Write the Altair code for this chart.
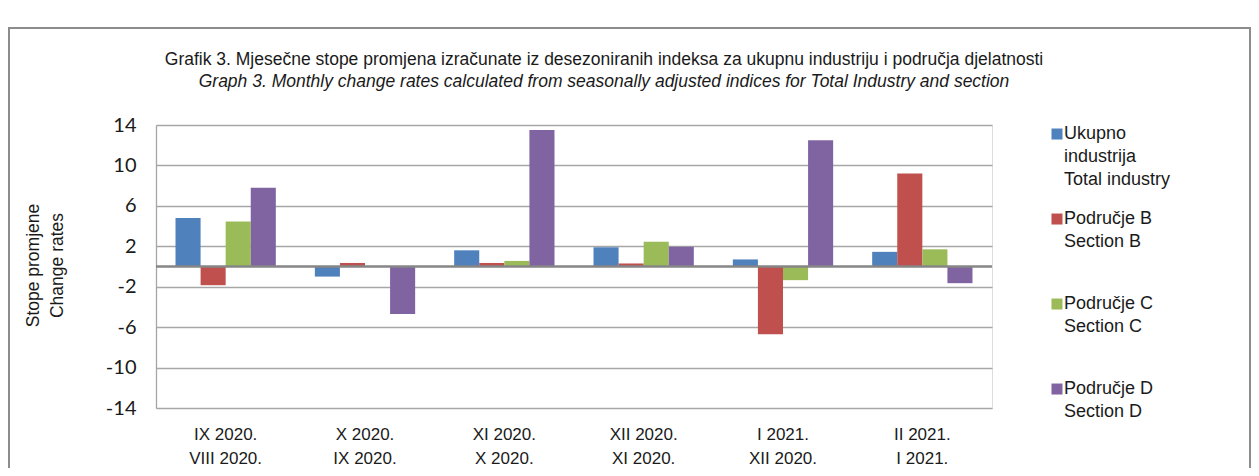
import altair as alt
import pandas as pd

periods = ["IX 2020.\nVIII 2020.", "X 2020.\nIX 2020.", "XI 2020.\nX 2020.",
           "XII 2020.\nXI 2020.", "I 2021.\nXII 2020.", "II 2021.\nI 2021."]
series = ["Ukupno\nindustrija\nTotal industry", "Područje B\nSection B",
          "Područje C\nSection C", "Područje D\nSection D"]
total_industry = [4.8, -1.0, 1.6, 1.9, 0.7, 1.45]
section_b = [-1.85, 0.35, 0.35, 0.3, -6.7, 9.2]
section_c = [4.45, 0.0, 0.55, 2.45, -1.35, 1.7]
section_d = [7.8, -4.7, 13.5, 1.95, 12.5, -1.65]
colors = ["#4F81BD", "#C0504D", "#9BBB59", "#8064A2"]
y_ticks = [-14, -10, -6, -2, 2, 6, 10, 14]

title_line1 = ("Grafik 3. Mjesečne stope promjena izračunate iz desezoniranih indeksa "
               "za ukupnu industriju i područja djelatnosti")
title_line2 = ("Graph 3. Monthly change rates calculated from seasonally adjusted indices "
               "for Total Industry and section")

rows = []
for s, vals in zip(series, [total_industry, section_b, section_c, section_d]):
    for p, v in zip(periods, vals):
        rows.append({"period": p, "series": s, "value": v})
df = pd.DataFrame(rows)

bars = alt.Chart(df).mark_bar().encode(
    x=alt.X("period:N", sort=periods,
            scale=alt.Scale(paddingInner=0.28, paddingOuter=0.14),
            axis=alt.Axis(title=None, labelAngle=0, ticks=False, domain=False, grid=False,
                          labelPadding=18, labelFont="Liberation Sans", labelFontSize=17,
                          labelLineHeight=24, labelColor="#1a1a1a", labelBaseline="top",
                          labelExpr="split(datum.label, '\\n')")),
    xOffset=alt.XOffset("series:N", sort=series, scale=alt.Scale(paddingInner=0, paddingOuter=0)),
    y=alt.Y("value:Q", scale=alt.Scale(domain=[-14, 14], nice=False, zero=False),
            axis=alt.Axis(values=y_ticks, title=["Stope promjene", "Change rates"],
                          titleFont="Liberation Sans", titleFontSize=17.5, titleFontWeight="normal",
                          titleColor="#1a1a1a", titleX=-123, titleY=140, titleAlign="center",
                          titleBaseline="middle", titleAngle=270, titleLineHeight=24,
                          labelFont="Lato", labelFontSize=20, labelColor="#1a1a1a",
                          labelExpr="'' + datum.value",
                          labelPadding=20, ticks=False, domainColor="#a6a6a6", domainWidth=1.3,
                          gridColor="#a6a6a6", gridWidth=1.3)),
    color=alt.Color("series:N", sort=series,
                    scale=alt.Scale(domain=series, range=colors),
                    legend=alt.Legend(title=None, orient="none", legendX=890, legendY=-9,
                                      symbolType="M-0.64,0.64H1.36V2.64H-0.64Z", symbolSize=121,
                                      symbolStrokeWidth=0,
                                      labelFont="Liberation Sans", labelFontSize=18,
                                      labelColor="#1a1a1a", labelBaseline="top",
                                      labelExpr="split(datum.label, '\\n')", labelLimit=0,
                                      labelOffset=0, gridAlign="all", rowPadding=12, padding=0)),
)

zero = alt.Chart(pd.DataFrame({"z": [0]})).mark_rule(color="#868686", strokeWidth=2.3).encode(
    y="z:Q")

border = alt.Chart(pd.DataFrame({"a": [0]})).mark_rect(
    filled=False, stroke="#8c8c8c", strokeWidth=2).encode(
    x=alt.value(-147), x2=alt.value(1094), y=alt.value(-97), y2=alt.value(400))

chart = alt.layer(border, bars, zero).properties(
    width=836, height=283,
    autosize=alt.AutoSizeParams(type="none"),
    padding={"left": 148, "top": 117, "right": 259, "bottom": 60},
    title=alt.TitleParams(text=title_line1, subtitle=title_line2, frame="group",
                          anchor="middle", dx=30, dy=63, offset=0,
                          font="Liberation Sans", fontSize=17.5, fontWeight="normal",
                          color="#1a1a1a", subtitleFont="Liberation Sans",
                          subtitleFontSize=17.5, subtitleFontStyle="italic",
                          subtitleColor="#1a1a1a", subtitlePadding=4),
).configure_view(stroke=None).configure(
    style={"guide-label": {"lineHeight": 23}})

chart.save("out.html", embed_options={"renderer": "svg", "actions": False})
